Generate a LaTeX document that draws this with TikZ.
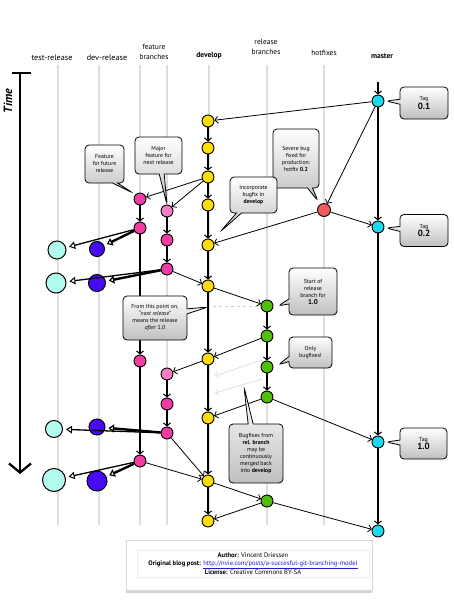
\documentclass[tikz,border=0pt]{standalone}
\usepackage{fontspec}
\setmainfont{PT Sans}
\usetikzlibrary{arrows.meta,shapes.callouts,shadows}
\definecolor{mastercol}{RGB}{30,215,240}
\definecolor{devcol}{RGB}{255,221,0}
\definecolor{hotcol}{RGB}{242,90,95}
\definecolor{featcol}{RGB}{240,60,165}
\definecolor{featlight}{RGB}{245,125,195}
\definecolor{relcol}{RGB}{80,190,10}
\definecolor{testcol}{RGB}{178,252,238}
\definecolor{devrelcol}{RGB}{70,10,245}
\definecolor{lanecol}{RGB}{222,222,222}
\definecolor{linkcol}{RGB}{30,30,200}
\tikzset{
  commit/.style={circle,draw,line width=0.9pt,minimum size=12pt,inner sep=0pt},
  mcommit/.style={commit,fill=mastercol},
  dcommit/.style={commit,fill=devcol},
  hcommit/.style={commit,fill=hotcol,minimum size=13pt},
  fcommit/.style={commit,fill=featcol},
  flcommit/.style={commit,fill=featlight},
  rcommit/.style={commit,fill=relcol},
  tcommit/.style={circle,draw,line width=1pt,fill=testcol,inner sep=0pt},
  drcommit/.style={circle,draw,line width=1pt,fill=devrelcol,inner sep=0pt},
  conn/.style={line width=0.8pt,-{Straight Barb[length=3pt,width=7pt,line width=0.8pt]}},
  vconn/.style={line width=1.1pt,-{Straight Barb[length=3pt,width=7pt,line width=1pt]}},
  ghost/.style={line width=0.8pt,draw=gray!25,-{Straight Barb[length=3pt,width=7pt,line width=0.8pt]}},
  lane/.style={draw=lanecol,line width=2pt},
  lbl/.style={font=\fontsize{8.2}{9}\selectfont,align=center,inner sep=0pt},
  blbl/.style={font=\bfseries\fontsize{7.5}{8}\selectfont,inner sep=0pt},
  note/.style={rectangle callout,rounded corners=4pt,draw,line width=0.8pt,
    top color=white,bottom color=gray!50,align=center,
    font=\fontsize{5.8}{7}\selectfont,inner sep=1pt,callout pointer width=5pt},
  relarrow/.style={line width=1.3pt,shorten >=3pt,-{Triangle[open,length=6pt,width=7.5pt,line width=1pt]}},
  devarrow/.style={line width=2.4pt,shorten >=3pt,-{Triangle[open,length=5.5pt,width=8pt,line width=1.2pt]}},
}
\begin{document}
\begin{tikzpicture}[x=1pt,y=-1pt]
\useasboundingbox (0,0) rectangle (454,600);
\fill[white] (0,0) rectangle (454,600);

% column headings
\node[lbl] (htest) at (52,58) {test-release};
\node[lbl] (hdevrel) at (107,58) {dev-release};
\node[lbl,font=\fontsize{7.5}{10}\selectfont] (hfeat) at (154,52) {feature\\branches};
\node[blbl] (hdevelop) at (209,56) {develop};
\node[lbl,font=\fontsize{7.5}{10}\selectfont] (hrel) at (266,47) {release\\branches};
\node[lbl,font=\fontsize{7.5}{10}\selectfont] (hhot) at (324,53) {hotfixes};
\node[blbl] (hmaster) at (382,56) {master};

% lanes
\foreach \lx in {58,99,140,167,209,267,324}{
  \draw[lane] (\lx,65) -- (\lx,525);
}

% time axis
\coordinate (tstart) at (20,73);
\coordinate (tend) at (20,474);
\draw[line width=2.3pt] (12,73) -- (31,73);
\draw[line width=2.3pt,-{Straight Barb[length=9pt,width=22pt,line width=2.3pt]}] (tstart) -- (tend);
\node[rotate=90,font=\bfseries\itshape\fontsize{12}{14}\selectfont,inner sep=0pt] (time) at (8,101) {Time};

% master
\node[mcommit] (M1) at (378,101) {};
\node[mcommit] (M2) at (378,227) {};
\node[mcommit] (M3) at (378,442) {};
\node[mcommit] (M4) at (378,531) {};
\coordinate (min) at (378,82);
% hotfix
\node[hcommit] (H) at (324,210) {};
% develop
\node[dcommit] (D1) at (208,121) {};
\node[dcommit] (D2) at (208,148) {};
\node[dcommit] (D3) at (208,177) {};
\node[dcommit] (D4) at (208,205) {};
\node[dcommit] (D5) at (208,245) {};
\node[dcommit] (D6) at (208,286) {};
\node[dcommit] (D7) at (208,359) {};
\node[dcommit] (D8) at (208,418) {};
\node[dcommit] (D9) at (208,481) {};
\node[dcommit] (D10) at (208,521) {};
% features
\node[fcommit] (F1a) at (140,199) {};
\node[fcommit] (F1b) at (140,228) {};
\node[fcommit] (F1c) at (140,361) {};
\node[fcommit] (F1d) at (140,461) {};
\node[flcommit] (F2a) at (167,211) {};
\node[fcommit] (F2b) at (167,240) {};
\node[fcommit] (F2c) at (167,269) {};
\node[flcommit] (F2d) at (167,374) {};
\node[fcommit] (F2e) at (167,404) {};
\node[fcommit] (F2f) at (167,433) {};
% release
\node[rcommit] (R1) at (267,306) {};
\node[rcommit] (R2) at (267,336) {};
\node[rcommit] (R3) at (267,367) {};
\node[rcommit] (R4) at (267,397) {};
\node[rcommit] (R5) at (267,501) {};
% test / dev release
\node[tcommit,minimum size=18pt] (T1) at (57,250) {};
\node[drcommit,minimum size=15pt] (V1) at (97,249) {};
\node[tcommit,minimum size=20pt] (T2) at (56,283) {};
\node[drcommit,minimum size=17pt] (V2) at (97,283) {};
\node[tcommit,minimum size=17pt] (T3) at (54,429) {};
\node[drcommit,minimum size=16pt] (V3) at (97,427) {};
\node[tcommit,minimum size=23pt] (T4) at (54,480) {};
\node[drcommit,minimum size=20pt] (V4) at (97,481) {};

% master connectors
\draw[vconn] (min) -- (M1);
\draw[vconn] (M1) -- (M2);
\draw[vconn] (M2) -- (M3);
\draw[vconn] (M3) -- (M4);
\draw[conn] (M1) -- (D1);
\draw[conn] (M1) -- (H);
\draw[conn] (H) -- (M2);
\draw[conn] (H) -- (D5);
% develop
\draw[vconn] (D1) -- (D2);
\draw[vconn] (D2) -- (D3);
\draw[vconn] (D3) -- (D4);
\draw[vconn] (D4) -- (D5);
\draw[vconn] (D5) -- (D6);
\draw[vconn] (D6) -- (D7);
\draw[vconn] (D7) -- (D8);
\draw[vconn] (D8) -- (D9);
\draw[vconn] (D9) -- (D10);
% features
\draw[conn] (D3) -- (F1a);
\draw[conn] (D3) -- (F2a);
\draw[vconn] (F1a) -- (F1b);
\draw[vconn] (F1b) -- (F1c);
\draw[vconn] (F1c) -- (F1d);
\draw[vconn] (F2a) -- (F2b);
\draw[vconn] (F2b) -- (F2c);
\draw[conn] (F2c) -- (D6);
\draw[conn] (D7) -- (F2d);
\draw[vconn] (F2d) -- (F2e);
\draw[vconn] (F2e) -- (F2f);
\draw[conn] (F2f) -- (D9);
\draw[conn] (F1d) -- (D9);
% release
\draw[conn] (D6) -- (R1);
\draw[dashed,draw=gray!40,line width=0.7pt] (213,306) -- (R1);
\draw[vconn] (R1) -- (R2);
\draw[vconn] (R2) -- (R3);
\draw[vconn] (R3) -- (R4);
\draw[conn] (R2) -- (D7);
\draw[conn] (R4) -- (D8);
\draw[conn] (R4) -- (M3);
\draw[conn] (D9) -- (R5);
\draw[conn] (R5) -- (D10);
\draw[conn] (R5) -- (M4);
\coordinate (g1s) at (262,360);
\coordinate (g1e) at (215,376);
\coordinate (g2s) at (262,379);
\coordinate (g2e) at (215,393);
\draw[ghost] (g1s) -- (g1e);
\draw[ghost] (g2s) -- (g2e);
% to test / dev release
\draw[relarrow] (F1b) -- (T1);
\draw[devarrow] (F1b) -- (V1);
\draw[relarrow] (F2c) -- (T2);
\draw[devarrow] (F2c) -- (V2);
\draw[relarrow] (F2f) -- (T3);
\draw[devarrow] (F2f) -- (V3);
\draw[relarrow] (F1d) -- (T4);
\draw[devarrow] (F1d) -- (V4);

% callouts
\node[note,minimum width=39pt,minimum height=38pt,callout absolute pointer={(133,193)}] (n1) at (104.5,164) {Feature\\for future\\release};
\node[note,minimum width=47pt,minimum height=37pt,callout absolute pointer={(F2a.north)}] (n2) at (158.5,155.5) {Major\\feature for\\next release};
\node[note,minimum width=46pt,minimum height=59pt,callout absolute pointer={(318,201)}] (n3) at (296,158.5) {Severe bug\\fixed for\\production:\\hotfix \textbf{0.2}};
\node[note,minimum width=47pt,minimum height=36pt,callout absolute pointer={(220,232)}] (n4) at (253.5,195) {Incorporate\\bugfix in\\\textbf{develop}};
\node[note,minimum width=48pt,minimum height=32pt,callout absolute pointer={(386,101)}] (tag1) at (424,103) {Tag\\{\bfseries\fontsize{9}{10}\selectfont 0.1}};
\node[note,minimum width=48pt,minimum height=32pt,callout absolute pointer={(386,228)}] (tag2) at (424,230.5) {Tag\\{\bfseries\fontsize{9}{10}\selectfont 0.2}};
\node[note,minimum width=47pt,minimum height=31pt,callout absolute pointer={(386,442)}] (tag3) at (423.5,443.5) {Tag\\{\bfseries\fontsize{9}{10}\selectfont 1.0}};
\node[note,minimum width=48pt,minimum height=47pt,callout absolute pointer={(278,306)}] (n5) at (313,291.5) {Start of\\release\\branch for\\{\bfseries\fontsize{7}{8}\selectfont 1.0}};
\node[note,minimum width=64pt,minimum height=44pt,callout absolute pointer={(208,307)}] (n6) at (155,318) {From this point on,\\\textit{``next release''}\\means the release\\\textit{after} 1.0};
\node[note,minimum width=43pt,minimum height=31pt,callout absolute pointer={(278,365)}] (n7) at (310.5,352.5) {Only\\bugfixes!};
\node[note,minimum width=54pt,minimum height=59pt,callout absolute pointer={(244,387)}] (n8) at (256,453.5) {Bugfixes from\\\textbf{rel. branch}\\may be\\continuously\\merged back\\into \textbf{develop}};

% credits
\node[draw=gray!30,fill=white,drop shadow={opacity=0.35,shadow xshift=0pt,shadow yshift=-3pt},minimum width=246pt,minimum height=50pt] (credit) at (249,565) {};
\node[draw=gray!15,minimum width=232pt,minimum height=27pt,align=center,font=\fontsize{6.6}{8}\selectfont,inner sep=1pt] (credittext) at (253,564)
 {\textbf{Author:} Vincent Driessen\\
  \textbf{Original blog post:} \textcolor{linkcol}{\underline{http://nvie.com/posts/a-succesful-git-branching-model}}\\
  \textbf{License:} Creative Commons BY-SA};
\end{tikzpicture}
\end{document}
